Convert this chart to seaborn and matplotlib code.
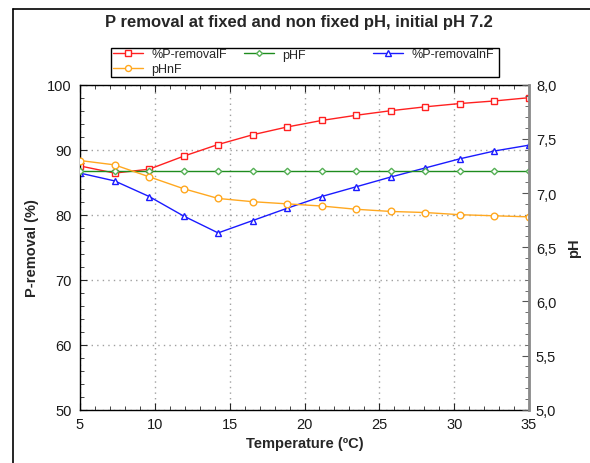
import numpy as np
import pandas as pd
import matplotlib
matplotlib.use("Agg")
import matplotlib.pyplot as plt
from matplotlib.lines import Line2D
from matplotlib.patches import Rectangle
from matplotlib.ticker import MultipleLocator, FuncFormatter
import seaborn as sns

# Measured series (temperature in degC)
temperature = [5.00, 7.31, 9.62, 11.92, 14.23, 16.54, 18.85,
               21.15, 23.46, 25.77, 28.08, 30.38, 32.69, 35.00]
p_removal_fixed = [87.5, 86.4, 87.0, 89.0, 90.8, 92.3, 93.5,
                   94.5, 95.3, 96.0, 96.6, 97.1, 97.5, 98.0]
p_removal_nonfixed = [86.4, 85.2, 82.8, 79.8, 77.2, 79.1, 81.0,
                      82.8, 84.3, 85.8, 87.2, 88.6, 89.8, 90.7]
ph_fixed = [7.2] * 14
ph_nonfixed = [7.30, 7.26, 7.15, 7.04, 6.95, 6.92, 6.90,
               6.88, 6.85, 6.83, 6.82, 6.80, 6.79, 6.78]

x_ticks = [5, 10, 15, 20, 25, 30, 35]
left_ticks = [50, 60, 70, 80, 90, 100]
right_ticks = [5.0, 5.5, 6.0, 6.5, 7.0, 7.5, 8.0]

df = pd.DataFrame({
    "T": temperature,
    "%P-removalF": p_removal_fixed,
    "%P-removalnF": p_removal_nonfixed,
    "pHF": ph_fixed,
    "pHnF": ph_nonfixed,
})

sns.set_style("ticks")
plt.rcParams["font.family"] = ["Liberation Sans", "DejaVu Sans"]

W, H = 590, 464
fig = plt.figure(figsize=(W / 100, H / 100), dpi=100)
ax = fig.add_axes([80 / W, 1 - 410.7 / H, 449 / W, 325 / H])
ax2 = ax.twinx()

mk = dict(markerfacecolor="white", markeredgewidth=1.0, linewidth=1.0)
sns.lineplot(data=df, x="T", y="%P-removalF", ax=ax, color="#ff2020",
             marker="s", markersize=4.6, markeredgecolor="#ff2020", **mk)
sns.lineplot(data=df, x="T", y="%P-removalnF", ax=ax, color="#1a1aff",
             marker="^", markersize=5.0, markeredgecolor="#1a1aff", **mk)
sns.lineplot(data=df, x="T", y="pHF", ax=ax2, color="#1e8c1e",
             marker="D", markersize=3.3, markeredgecolor="#55b055", **mk)
sns.lineplot(data=df, x="T", y="pHnF", ax=ax2, color="#ffa820",
             marker="o", markersize=4.8, markeredgecolor="#ffa820", **mk)

ax.set_xlim(5, 35)
ax.set_ylim(50, 100)
ax2.set_ylim(5.0, 8.0)
ax.set_xticks(x_ticks)
ax.set_yticks(left_ticks)
ax2.set_yticks(right_ticks)
ax.xaxis.set_minor_locator(MultipleLocator(1))
ax.yaxis.set_minor_locator(MultipleLocator(2))
ax2.yaxis.set_minor_locator(MultipleLocator(0.1))
ax2.yaxis.set_major_formatter(FuncFormatter(lambda v, p: f"{v:.1f}".replace(".", ",")))

tick_col = "#1a1a1a"
ax.tick_params(axis="x", which="both", direction="in", top=True, pad=5,
               labelsize=10.5, labelcolor=tick_col)
ax.tick_params(axis="x", which="major", length=5)
ax.tick_params(axis="x", which="minor", length=3)
ax.tick_params(axis="y", which="both", direction="in", pad=6,
               labelsize=10.5, labelcolor=tick_col)
ax.tick_params(axis="y", which="major", length=5)
ax.tick_params(axis="y", which="minor", length=3)
ax2.tick_params(axis="y", which="both", direction="in", pad=5,
                labelsize=10.5, labelcolor=tick_col, color="#555555")
ax2.tick_params(axis="y", which="major", length=5)
ax2.tick_params(axis="y", which="minor", length=3)

ax.grid(True, which="major", color="#a0a0a0", linestyle=(0, (1, 3)), linewidth=1.0)
ax.set_axisbelow(True)

for sp in ["left", "top", "bottom"]:
    ax.spines[sp].set_color("black")
    ax.spines[sp].set_linewidth(1.0)
ax2.spines["right"].set_color("#8a8a8a")
ax2.spines["right"].set_linewidth(2.0)
for sp in ["left", "top", "bottom"]:
    ax2.spines[sp].set_visible(False)

ax.set_xlabel("Temperature (ºC)", fontsize=10.5, fontweight="bold", labelpad=4)
ax.set_ylabel("P-removal (%)", fontsize=10.5, fontweight="bold", labelpad=6)
ax2.set_ylabel("pH", fontsize=10.5, fontweight="bold", labelpad=8)

fig.text(299 / W, 1 - 23 / H, "P removal at fixed and non fixed pH, initial pH 7.2",
         ha="center", va="center", fontsize=12, fontweight="bold")

# Legend: three columns of entries inside one rectangular frame
def handle(src):
    return Line2D([], [], color=src.get_color(), marker=src.get_marker(),
                  markersize=src.get_markersize() * 0.9, markerfacecolor="white",
                  markeredgecolor=src.get_markeredgecolor(), linewidth=1.0)

col_defs = [
    (113, [("%P-removalF", ax.get_lines()[0]), ("pHnF", ax2.get_lines()[1])]),
    (244, [("pHF", ax2.get_lines()[0])]),
    (373, [("%P-removalnF", ax.get_lines()[1])]),
]
for xpix, entries in col_defs:
    fig.legend([handle(s) for _, s in entries], [n for n, _ in entries],
               loc="upper left", bbox_to_anchor=(xpix / W, 1 - 49.5 / H),
               frameon=False, fontsize=9, borderpad=0, borderaxespad=0,
               handlelength=2.4, handletextpad=0.65, labelspacing=0.2)
fig.add_artist(Rectangle((110.7 / W, 1 - 78.3 / H), (499 - 110.7) / W, 29 / H,
                         transform=fig.transFigure, fill=False,
                         edgecolor="black", linewidth=1.0))

# Outer figure border (left and top edges)
fig.add_artist(Line2D([13 / W, 1.0], [1 - 9.5 / H] * 2, transform=fig.transFigure,
                      color="black", linewidth=1.2))
fig.add_artist(Line2D([13 / W] * 2, [0.0, 1 - 9.5 / H], transform=fig.transFigure,
                      color="black", linewidth=1.2))

fig.savefig("out.png", dpi=100)
